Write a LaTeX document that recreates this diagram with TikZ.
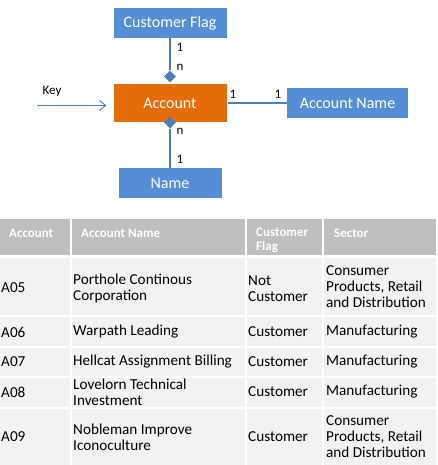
\documentclass[tikz,border=0pt]{standalone}
\usepackage{fontspec}
\setmainfont{Carlito}
\usetikzlibrary{arrows.meta,shapes.geometric}
\definecolor{boxblue}{RGB}{85,142,213}
\definecolor{boxorange}{RGB}{228,108,10}
\definecolor{linkblue}{RGB}{74,126,187}
\definecolor{headgray}{RGB}{191,191,191}
\definecolor{rowgray}{RGB}{242,242,242}
\tikzset{link/.style={draw=linkblue, line width=1.1pt}}
\begin{document}
\begin{tikzpicture}[x=1pt,y=-1pt]
    \useasboundingbox (0,0) rectangle (438,465);

    \begin{scope}[every node/.style={fill=boxblue, text=white, inner sep=0pt, minimum height=30pt, font=\fontsize{16}{18}\selectfont}]

        \node[minimum width=113pt] (flag) at (170,23) {Customer Flag};
        \node[fill=boxorange, minimum width=113pt, minimum height=38pt] (acct) at (170,103) {Account};
        \node[minimum width=121pt] (acname) at (347.5,103) {Account Name};
        \node[minimum width=103pt] (name) at (170,183) {Name};

    \end{scope}
    \begin{scope}[every node/.style={diamond, fill=linkblue, inner sep=0pt, minimum size=12pt}]

        \node (dtop) at (170,76.5) {};
        \node (dbot) at (170,122.5) {};

    \end{scope}
    \coordinate (keyin) at (37,105.5);
    \path[link] (flag) edge (dtop);
    \path[link] (dbot) edge (name);
    \path[link, shorten <=1.5pt] (acct) edge (acname);
    \draw[link, line width=0.9pt, -{Straight Barb[length=6pt,width=10pt]}, shorten >=7pt] (keyin) -- (keyin -| acct.west);

    \begin{scope}[every node/.style={inner sep=0pt, font=\fontsize{13}{15}\selectfont}]

        \node (key) at (52,91) {Key};
        \node (ctop1) at (180,47) {1};
        \node (ctopn) at (180,67) {n};
        \node (cleft1) at (233,94) {1};
        \node (cright1) at (278,94) {1};
        \node (cbotn) at (180,131) {n};
        \node (cbot1) at (180,159) {1};

    \end{scope}

    \fill[headgray] (0,219) rectangle (436,256);
    \fill[rowgray] (0,256) rectangle (436,465);
    \begin{scope}[white, line width=2pt]
        \draw[line width=3pt] (0,256) -- (436,256);
        \foreach \y in {316,347,377,408} \draw (0,\y) -- (436,\y);
        \foreach \x in {71,246,323} \draw (\x,219) -- (\x,465);
    \end{scope}

    \begin{scope}[every node/.style={text=white, inner sep=0pt, anchor=west, align=left, font=\bfseries\fontsize{13}{14}\selectfont}]

        \node (hacct) at (9,233) {Account};
        \node (hname) at (81,233) {Account Name};
        \node[anchor=north west] (hflag) at (256,228) {Customer\\Flag};
        \node (hsector) at (334,233) {Sector};

    \end{scope}
    \begin{scope}[every node/.style={inner sep=0pt, anchor=west, align=left, font=\fontsize{15.2}{16}\selectfont}]

        \node (a05) at (1,288) {A05};
        \node (n05) at (73,288) {Porthole Continous\\Corporation};
        \node (f05) at (248,289) {Not\\Customer};
        \node (s05) at (326,287) {Consumer\\Products, Retail\\and Distribution};

        \node (a06) at (1,332) {A06};
        \node (n06) at (73,332) {Warpath Leading};
        \node (f06) at (248,332) {Customer};
        \node (s06) at (326,332) {Manufacturing};

        \node (a07) at (1,362) {A07};
        \node (n07) at (73,362) {Hellcat Assignment Billing};
        \node (f07) at (248,362) {Customer};
        \node (s07) at (326,362) {Manufacturing};

        \node (a08) at (1,392) {A08};
        \node (n08) at (73,392) {Lovelorn Technical\\Investment};
        \node (f08) at (248,392) {Customer};
        \node (s08) at (326,392) {Manufacturing};

        \node (a09) at (1,437) {A09};
        \node (n09) at (73,437) {Nobleman Improve\\Iconoculture};
        \node (f09) at (248,437) {Customer};
        \node (s09) at (326,437) {Consumer\\Products, Retail\\and Distribution};

    \end{scope}
\end{tikzpicture}
\end{document}
